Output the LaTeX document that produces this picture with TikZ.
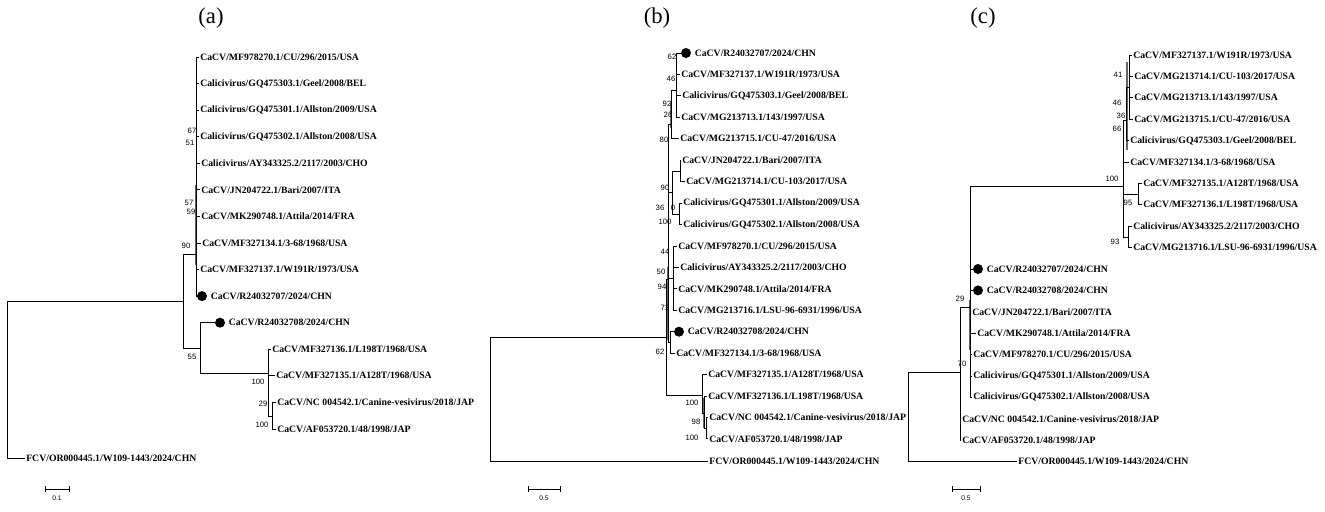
\documentclass[tikz,border=0pt]{standalone}
\usepackage{fontspec}
\setmainfont{Liberation Serif}
\newfontfamily\arialfont{Liberation Sans}
\usetikzlibrary{positioning}
\tikzset{every picture/.style={line width=0.75pt}}
\tikzset{
	leaf/.style={anchor=west, inner sep=0.6pt, font=\fontsize{7.3}{8}\selectfont\bfseries},
	boot/.style={inner sep=0pt, font=\arialfont\fontsize{5.8}{6}\selectfont},
	tipdot/.style={circle, fill=black, inner sep=0pt, minimum size=7.5pt},
	branch/.style={line width=0.7pt},
	heavy/.style={line width=1.6pt, draw=black!60},
	paneltitle/.style={font=\fontsize{17}{18}\selectfont},
	scalebar/.style={line width=0.6pt},
	scalelabel/.style={inner sep=0pt, font=\arialfont\fontsize{5}{5}\selectfont}}

\begin{document}
\begin{tikzpicture}[x=0.75pt,y=0.75pt,yscale=-1,xscale=1]
	\useasboundingbox (0,0) rectangle (1325,511);

	%%%%%%%%%%%%%%%% panel (a)
	\node[paneltitle] (ta) at (211,18) {(a)};
	% Text Node
	\node[leaf] (a1) at (199,57) {CaCV/MF978270.1/CU/296/2015/USA};
	\node[leaf] (a2) at (199,83.6) {Calicivirus/GQ475303.1/Geel/2008/BEL};
	\node[leaf] (a3) at (199,110.1) {Calicivirus/GQ475301.1/Allston/2009/USA};
	\node[leaf] (a4) at (199,136.7) {Calicivirus/GQ475302.1/Allston/2008/USA};
	\node[leaf] (a5) at (200,163.3) {Calicivirus/AY343325.2/2117/2003/CHO};
	\node[leaf] (a6) at (200,189.9) {CaCV/JN204722.1/Bari/2007/ITA};
	\node[leaf] (a7) at (200,216.4) {CaCV/MK290748.1/Attila/2014/FRA};
	\node[leaf] (a8) at (201,243) {CaCV/MF327134.1/3-68/1968/USA};
	\node[leaf] (a9) at (199,269.6) {CaCV/MF327137.1/W191R/1973/USA};
	\node[tipdot] (a10d) at (202,296.1) {};
	\node[leaf, right=1.5pt of a10d] (a10) {CaCV/R24032707/2024/CHN};
	\node[tipdot] (a11d) at (220,322.7) {};
	\node[leaf, right=1.5pt of a11d] (a11) {CaCV/R24032708/2024/CHN};
	\node[leaf] (a12) at (271,349.3) {CaCV/MF327136.1/L198T/1968/USA};
	\node[leaf] (a13) at (275,375.8) {CaCV/MF327135.1/A128T/1968/USA};
	\node[leaf] (a14) at (276,402.4) {CaCV/NC 004542.1/Canine-vesivirus/2018/JAP};
	\node[leaf] (a15) at (276,429) {CaCV/AF053720.1/48/1998/JAP};
	\node[leaf] (afcv) at (25,458) {FCV/OR000445.1/W109-1443/2024/CHN};
	% inner nodes
	\coordinate (ra) at (7,379.5);
	\coordinate (n90a) at (183,301);
	\coordinate (ma) at (196,254);
	\coordinate (n55a) at (200,348);
	\coordinate (n100a) at (268,373);
	\coordinate (n29a) at (272,416);
	% branches
	\draw[heavy] (196,185) -- (196,265);
	\draw[branch] (ra) |- (n90a);
	\draw[branch] (ra) |- (afcv.west);
	\draw[branch] (n90a) |- (ma);
	\draw[branch] (n90a) |- (n55a);
	\foreach \i in {1,...,9} \draw[branch] (ma) |- (a\i.west);
	\draw[branch] (ma) |- (a10d.west);
	\draw[branch] (n55a) |- (a11d.west);
	\draw[branch] (n55a) |- (n100a);
	\draw[branch] (n100a) |- (a12.west);
	\draw[branch] (n100a) |- (a13.west);
	\draw[branch] (n100a) |- (n29a);
	\draw[branch] (n29a) |- (a14.west);
	\draw[branch] (n29a) |- (a15.west);
	% support values
	\node[boot] (ba1) at (192,131) {67};
	\node[boot] (ba2) at (190,143) {51};
	\node[boot] (ba3) at (189,203) {57};
	\node[boot] (ba4) at (191,212) {59};
	\node[boot] (ba5) at (186,246) {90};
	\node[boot] (ba6) at (192,357) {55};
	\node[boot] (ba7) at (258,382) {100};
	\node[boot] (ba8) at (263,404) {29};
	\node[boot] (ba9) at (262,425) {100};
	% scale
	\draw[scalebar] (45,486) -- (45,492) (45,489) -- (69,489) (69,486) -- (69,492);
	\node[scalelabel] (sla) at (57,498) {0.1};

	%%%%%%%%%%%%%%%% panel (b)
	\node[paneltitle] (tb) at (657,18) {(b)};
	% Text Node
	\node[tipdot] (b1d) at (686,53) {};
	\node[leaf, right=1.5pt of b1d] (b1) {CaCV/R24032707/2024/CHN};
	\node[leaf] (b2) at (680,74.4) {CaCV/MF327137.1/W191R/1973/USA};
	\node[leaf] (b3) at (681,95.9) {Calicivirus/GQ475303.1/Geel/2008/BEL};
	\node[leaf] (b4) at (680,117.3) {CaCV/MG213713.1/143/1997/USA};
	\node[leaf] (b5) at (679,138.8) {CaCV/MG213715.1/CU-47/2016/USA};
	\node[leaf] (b6) at (681,160.2) {CaCV/JN204722.1/Bari/2007/ITA};
	\node[leaf] (b7) at (685,181.6) {CaCV/MG213714.1/CU-103/2017/USA};
	\node[leaf] (b8) at (682,203.1) {Calicivirus/GQ475301.1/Allston/2009/USA};
	\node[leaf] (b9) at (682,224.5) {Calicivirus/GQ475302.1/Allston/2008/USA};
	\node[leaf] (b10) at (677,246) {CaCV/MF978270.1/CU/296/2015/USA};
	\node[leaf] (b11) at (679,267.4) {Calicivirus/AY343325.2/2117/2003/CHO};
	\node[leaf] (b12) at (677,288.8) {CaCV/MK290748.1/Attila/2014/FRA};
	\node[leaf] (b13) at (677,310.3) {CaCV/MG213716.1/LSU-96-6931/1996/USA};
	\node[tipdot] (b14d) at (679,331.7) {};
	\node[leaf, right=1.5pt of b14d] (b14) {CaCV/R24032708/2024/CHN};
	\node[leaf] (b15) at (675,353.2) {CaCV/MF327134.1/3-68/1968/USA};
	\node[leaf] (b16) at (707,374.6) {CaCV/MF327135.1/A128T/1968/USA};
	\node[leaf] (b17) at (707,396) {CaCV/MF327136.1/L198T/1968/USA};
	\node[leaf] (b18) at (708,417.5) {CaCV/NC 004542.1/Canine-vesivirus/2018/JAP};
	\node[leaf] (b19) at (708,438.9) {CaCV/AF053720.1/48/1998/JAP};
	\node[leaf] (bfcv) at (708,461) {FCV/OR000445.1/W109-1443/2024/CHN};
	% inner nodes
	\coordinate (rb) at (490,399);
	\coordinate (ib) at (666,337);
	\coordinate (mb) at (668,279);
	\coordinate (n80b) at (671,124);
	\coordinate (n62b) at (676,90);
	\coordinate (n90b) at (672,192);
	\coordinate (njnb) at (680,171);
	\coordinate (ngqb) at (679,214);
	\coordinate (n44b) at (673,278);
	\coordinate (n62bb) at (670,342);
	\coordinate (n100b) at (702,395);
	\coordinate (n98b) at (704,413);
	\coordinate (n100bb) at (706,428);
	% branches
	\draw[heavy] (671,103) -- (671,128);
	\draw[heavy] (668,267) -- (668,340);
	\draw[heavy] (704,398) -- (704,428);
	\draw[branch] (rb) |- (ib);
	\draw[branch] (rb) |- (bfcv.west);
	\draw[branch] (ib) |- (mb);
	\draw[branch] (ib) |- (n100b);
	\draw[branch] (mb) |- (n80b);
	\draw[branch] (mb) |- (n90b);
	\draw[branch] (mb) |- (n44b);
	\draw[branch] (mb) |- (n62bb);
	\draw[branch] (n80b) |- (n62b);
	\draw[branch] (n80b) |- (b5.west);
	\draw[branch] (n62b) |- (b1d.west);
	\foreach \i in {2,3,4} \draw[branch] (n62b) |- (b\i.west);
	\draw[branch] (n90b) |- (njnb);
	\draw[branch] (n90b) |- (ngqb);
	\draw[branch] (njnb) |- (b6.west);
	\draw[branch] (njnb) |- (b7.west);
	\draw[branch] (ngqb) |- (b8.west);
	\draw[branch] (ngqb) |- (b9.west);
	\foreach \i in {10,...,13} \draw[branch] (n44b) |- (b\i.west);
	\draw[branch] (n62bb) |- (b14d.west);
	\draw[branch] (n62bb) |- (b15.west);
	\draw[branch] (n100b) |- (b16.west);
	\draw[branch] (n100b) |- (n98b);
	\draw[branch] (n98b) |- (b17.west);
	\draw[branch] (n98b) |- (n100bb);
	\draw[branch] (n100bb) |- (b18.west);
	\draw[branch] (n100bb) |- (b19.west);
	% support values
	\node[boot] (bb1) at (672,57) {62};
	\node[boot] (bb2) at (671,79) {46};
	\node[boot] (bb3) at (667,104) {92};
	\node[boot] (bb4) at (668,115) {26};
	\node[boot] (bb5) at (664,140) {80};
	\node[boot] (bb6) at (665,188) {90};
	\node[boot] (bb7) at (660,208) {36};
	\node[boot] (bb8) at (673,208) {0};
	\node[boot] (bb9) at (665,222) {100};
	\node[boot] (bb10) at (665,252) {44};
	\node[boot] (bb11) at (661,272) {50};
	\node[boot] (bb12) at (662,287) {94};
	\node[boot] (bb13) at (665,308) {72};
	\node[boot] (bb14) at (660,352) {62};
	\node[boot] (bb15) at (692,403) {100};
	\node[boot] (bb16) at (696,422) {98};
	\node[boot] (bb17) at (692,438) {100};
	% scale
	\draw[scalebar] (528,486) -- (528,492) (528,489) -- (560,489) (560,486) -- (560,492);
	\node[scalelabel] (slb) at (544,498) {0.5};

	%%%%%%%%%%%%%%%% panel (c)
	\node[paneltitle] (tc) at (983,18) {(c)};
	% Text Node
	\node[leaf] (c1) at (1132,55) {CaCV/MF327137.1/W191R/1973/USA};
	\node[leaf] (c2) at (1133,76.4) {CaCV/MG213714.1/CU-103/2017/USA};
	\node[leaf] (c3) at (1133,97.8) {CaCV/MG213713.1/143/1997/USA};
	\node[leaf] (c4) at (1133,119.2) {CaCV/MG213715.1/CU-47/2016/USA};
	\node[leaf] (c5) at (1129,140.6) {Calicivirus/GQ475303.1/Geel/2008/BEL};
	\node[leaf] (c6) at (1129,162) {CaCV/MF327134.1/3-68/1968/USA};
	\node[leaf] (c7) at (1142,183.4) {CaCV/MF327135.1/A128T/1968/USA};
	\node[leaf] (c8) at (1142,204.8) {CaCV/MF327136.1/L198T/1968/USA};
	\node[leaf] (c9) at (1132,226.2) {Calicivirus/AY343325.2/2117/2003/CHO};
	\node[leaf] (c10) at (1132,247.6) {CaCV/MG213716.1/LSU-96-6931/1996/USA};
	\node[tipdot] (c11d) at (978,269) {};
	\node[leaf, right=1.5pt of c11d] (c11) {CaCV/R24032707/2024/CHN};
	\node[tipdot] (c12d) at (978,290.4) {};
	\node[leaf, right=1.5pt of c12d] (c12) {CaCV/R24032708/2024/CHN};
	\node[leaf] (c13) at (971,311.8) {CaCV/JN204722.1/Bari/2007/ITA};
	\node[leaf] (c14) at (976,333.2) {CaCV/MK290748.1/Attila/2014/FRA};
	\node[leaf] (c15) at (972,354.6) {CaCV/MF978270.1/CU/296/2015/USA};
	\node[leaf] (c16) at (972,376) {Calicivirus/GQ475301.1/Allston/2009/USA};
	\node[leaf] (c17) at (972,397.4) {Calicivirus/GQ475302.1/Allston/2008/USA};
	\node[leaf] (c18) at (961,418.8) {CaCV/NC 004542.1/Canine-vesivirus/2018/JAP};
	\node[leaf] (c19) at (961,440.2) {CaCV/AF053720.1/48/1998/JAP};
	\node[leaf] (cfcv) at (1017,461.6) {FCV/OR000445.1/W109-1443/2024/CHN};
	% inner nodes
	\coordinate (rc) at (908,416);
	\coordinate (n70c) at (960,372);
	\coordinate (n29c) at (970,307);
	\coordinate (n100c) at (1123,186);
	\coordinate (muc) at (1126,120);
	\coordinate (n41c) at (1129,87);
	\coordinate (n95c) at (1138,194);
	\coordinate (n93c) at (1128,237);
	% branches
	\draw[heavy] (970,300) -- (970,350);
	\draw[heavy] (1127,62) -- (1127,150);
	\draw[branch] (rc) |- (n70c);
	\draw[branch] (rc) |- (cfcv.west);
	\draw[branch] (n70c) |- (n29c);
	\draw[branch] (n70c) |- (c18.west);
	\draw[branch] (n70c) |- (c19.west);
	\draw[branch] (n29c) |- (n100c);
	\draw[branch] (n29c) |- (c11d.west);
	\draw[branch] (n29c) |- (c12d.west);
	\foreach \i in {13,...,17} \draw[branch] (n29c) |- (c\i.west);
	\draw[branch] (n100c) |- (muc);
	\draw[branch] (n100c) |- (c6.west);
	\draw[branch] (n100c) |- (n95c);
	\draw[branch] (n100c) |- (n93c);
	\draw[branch] (muc) |- (n41c);
	\draw[branch] (muc) |- (c5.west);
	\foreach \i in {1,...,4} \draw[branch] (n41c) |- (c\i.west);
	\draw[branch] (n95c) |- (c7.west);
	\draw[branch] (n95c) |- (c8.west);
	\draw[branch] (n93c) |- (c9.west);
	\draw[branch] (n93c) |- (c10.west);
	% support values
	\node[boot] (bc1) at (1118,75) {41};
	\node[boot] (bc2) at (1117,103) {46};
	\node[boot] (bc3) at (1121,116) {36};
	\node[boot] (bc4) at (1117,129) {66};
	\node[boot] (bc5) at (1112,179) {100};
	\node[boot] (bc6) at (1128,203) {95};
	\node[boot] (bc7) at (1115,242) {93};
	\node[boot] (bc8) at (960,299) {29};
	\node[boot] (bc9) at (962,364) {70};
	% scale
	\draw[scalebar] (952,486) -- (952,492) (952,489) -- (980,489) (980,486) -- (980,492);
	\node[scalelabel] (slc) at (966,498) {0.5};
\end{tikzpicture}
\end{document}
